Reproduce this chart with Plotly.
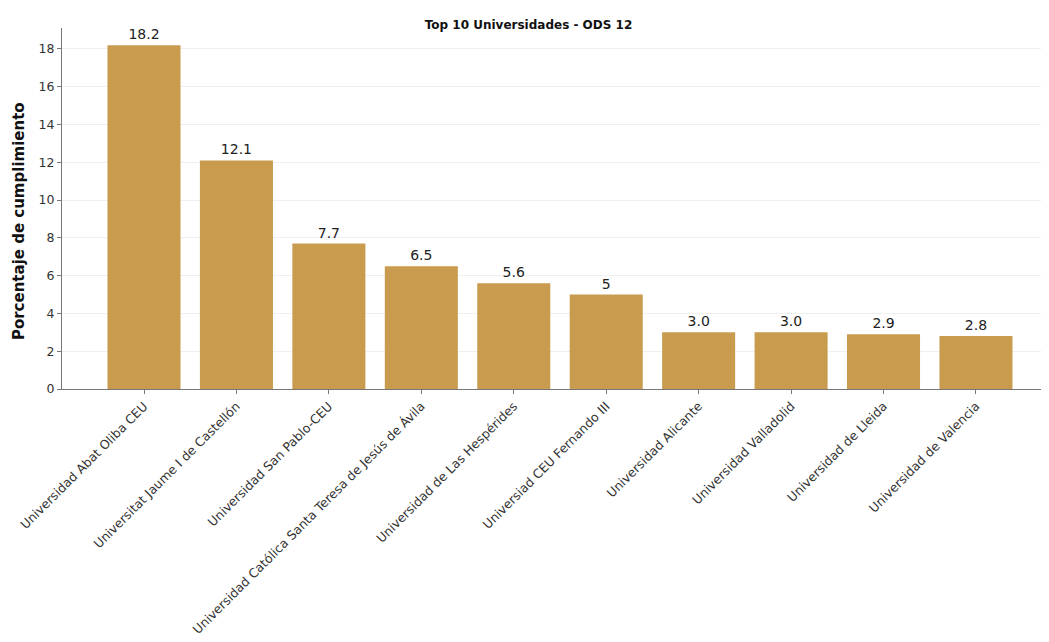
import plotly.graph_objects as go

universidades = [
    "Universidad Abat Oliba CEU",
    "Universitat Jaume I de Castellón",
    "Universidad San Pablo-CEU",
    "Universidad Católica Santa Teresa de Jesús de Ávila",
    "Universidad de Las Hespérides",
    "Universiad CEU Fernando III",
    "Universidad Alicante",
    "Universidad Valladolid",
    "Universidad de Lleida",
    "Universidad de Valencia",
]
porcentajes = [18.2, 12.1, 7.7, 6.5, 5.6, 5.0, 3.0, 3.0, 2.9, 2.8]
etiquetas = ["18.2", "12.1", "7.7", "6.5", "5.6", "5", "3.0", "3.0", "2.9", "2.8"]

FONT = "DejaVu Sans"

fig = go.Figure(
    go.Bar(
        x=list(range(len(universidades))),
        y=porcentajes,
        text=etiquetas,
        textposition="outside",
        textfont=dict(family=FONT, size=14, color="#222222"),
        cliponaxis=False,
        marker=dict(color="#C89B4E", line=dict(width=0)),
        width=0.79,
    )
)

fig.update_layout(
    width=1041,
    height=634,
    paper_bgcolor="white",
    plot_bgcolor="white",
    margin=dict(l=54, r=0, t=20, b=253, autoexpand=False),
    title=dict(
        text="<b>Top 10 Universidades - ODS 12</b>",
        x=0.5,
        xanchor="center",
        y=0.973,
        yanchor="middle",
        font=dict(family=FONT, size=12, color="#111111"),
    ),
    font=dict(family=FONT, size=12, color="#333333"),
    showlegend=False,
    bargap=0.2,
    annotations=[
        dict(
            text="<b>Porcentaje de cumplimiento</b>",
            xref="paper",
            yref="paper",
            x=-0.0436,
            y=0.465,
            xanchor="center",
            yanchor="middle",
            textangle=-90,
            showarrow=False,
            font=dict(family=FONT, size=15, color="#111111"),
        )
    ],
)

fig.update_xaxes(
    automargin=False,
    tickmode="array",
    tickvals=list(range(len(universidades))),
    ticktext=universidades,
    tickangle=-45,
    range=[-0.887, 9.79],
    showline=True,
    linecolor="#777777",
    linewidth=1,
    ticks="outside",
    ticklen=4,
    tickcolor="#777777",
    showgrid=False,
    zeroline=False,
    tickfont=dict(family=FONT, size=12.5, color="#333333"),
)

fig.update_yaxes(
    automargin=False,
    range=[0, 19.11],
    tickvals=[0, 2, 4, 6, 8, 10, 12, 14, 16, 18],
    showline=True,
    linecolor="#777777",
    linewidth=1,
    ticks="outside",
    ticklen=4,
    tickcolor="#777777",
    showgrid=True,
    gridcolor="#EFEFEF",
    gridwidth=1,
    zeroline=False,
    tickfont=dict(family=FONT, size=12.5, color="#333333"),
)

fig.write_html("out.html")
